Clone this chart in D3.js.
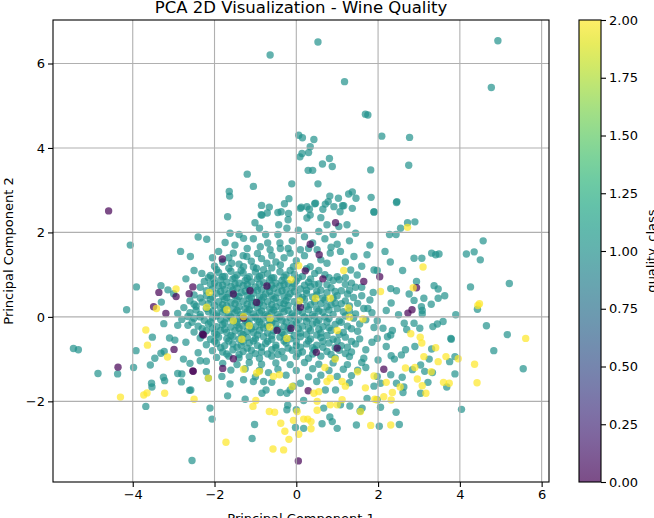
<!DOCTYPE html>
<html>
<head>
<meta charset="utf-8">
<script src="https://cdn.jsdelivr.net/npm/d3@7"></script>
<style>
body { margin: 0; background: #fff; }
text { font-family: "DejaVu Sans", sans-serif; fill: #000; }
</style>
</head>
<body>
<script>
// class 0 (low quality)
var class0 = [[-4.59,2.51],[-3.36,0.58],[-2.94,0.48],[-2.53,0.71],[-2.62,0.55],[-3.49,0.24],[-3.19,0.08],
  [-4.36,-1.19],[-2.99,-0.77],[-2.53,-1.28],[2.04,0.95],[2.94,0.69],[2.83,0.17],[2.73,0.09],[2.14,-1.24],
  [-2.52,-1.29],[-1.80,-1.22],[-1.54,-0.99],[-2.29,-0.41],[0.29,-1.75],[1.00,-0.74],[0.49,-0.84],[-1.81,1.37],
  [-1.54,0.54],[-1.13,0.62],[-0.97,0.34],[-0.72,0.73],[0.34,1.72],[0.56,1.47],[0.96,2.23],[0.22,1.09],
  [0.65,0.90],[1.65,0.84],[0.10,0.23],[-0.47,-0.32],[-0.13,-0.27],[-2.27,-0.43],[-1.29,-0.03],[0.05,-3.41]];

// class 1 (medium quality)
var class1 = [[-4.06,1.70],[-2.40,1.89],[-2.19,1.84],[-2.83,1.55],[-2.59,1.43],[-3.91,0.71],[-3.31,0.74],
  [-3.14,0.64],[-4.15,0.17],[-3.24,-0.16],[-3.52,-0.48],[-3.92,-0.80],[-5.45,-0.75],[-5.33,-0.78],[-4.85,-1.34],
  [-4.37,-1.35],[-3.98,-1.20],[-3.57,-1.14],[-3.46,-0.98],[-3.31,-0.86],[-3.23,-0.82],[-2.76,-1.00],[-2.97,-0.55],
  [-3.54,-1.57],[-3.53,-1.66],[-3.25,-1.43],[-3.22,-1.51],[-3.68,-2.12],[-2.90,-1.34],[-2.80,-1.35],[-2.81,-1.54],
  [-2.61,-1.74],[-2.11,-2.16],[-2.06,-2.42],[-2.55,-3.40],[-2.35,-1.04],
  [-0.64,6.20],[0.53,6.51],[4.93,6.54],[1.18,5.57],[4.77,5.43],[1.69,4.80],[1.75,4.78],[0.06,4.30],[0.15,4.24],
  [0.43,4.20],[2.09,4.28],[2.77,4.25],[0.34,4.03],[0.30,3.89],[0.09,3.79],[0.14,3.87],[0.81,3.75],[0.64,3.62],
  [0.88,3.56],[0.29,3.47],[0.40,3.47],[1.82,3.48],[2.75,3.59],[-1.20,3.38],[-1.05,3.09],[-0.11,3.15],[0.53,3.15],
  [-1.64,2.97],[-1.63,2.86],[1.28,2.91],[1.37,2.96],[1.46,2.81],[1.83,2.83],[2.46,2.73],[0.82,2.86],[1.03,2.81],
  [0.78,2.73],[0.71,2.67],[0.45,2.68],[1.13,2.63],[1.07,2.49],[1.90,2.49],[0.65,2.55],[-0.18,2.80],[-0.29,2.68],
  [-0.85,2.64],[-0.66,2.60],[-0.86,2.42],[-0.71,2.46],[-0.45,2.47],[-0.37,2.49],[0.12,2.60],[0.32,2.55],[-1.68,2.37],
  [-0.19,2.45],[0.10,2.57],[0.26,2.61],[0.47,2.69],[0.92,2.61],[1.16,2.63],[1.37,2.57],[-1.01,2.23],[-0.84,2.41],
  [-0.43,2.18],[-0.23,2.10],[0.26,2.34],[0.34,2.41],[0.75,2.18],[1.04,2.14],[1.24,2.18],[1.45,1.98],[-1.62,1.98],
  [-1.29,1.86],[-1.74,1.76],[-0.88,1.66],[-0.64,1.59],[-0.39,1.62],[-0.15,1.51],[0.10,1.59],[0.51,1.59],[0.83,1.51],
  [1.08,1.55],[1.41,1.43],[1.73,1.47],[-1.54,1.51],[-1.21,1.43],[-1.58,1.27],[-1.29,1.19],[-0.97,1.15],[-0.72,1.27],
  [-0.39,1.23],[-0.07,1.19],[0.34,1.19],[0.75,1.27],[1.00,0.95],[1.33,1.11],[1.49,0.99],[1.90,1.11],[-2.31,1.03],
  [-2.03,0.91],
  [2.45,2.71],[1.90,2.48],[2.72,2.23],[2.90,2.25],[2.55,2.10],[2.28,1.95],[2.44,1.95],[4.57,1.80],[2.17,1.55],
  [3.31,1.51],[3.41,1.47],[3.49,1.49],[4.16,1.49],[4.35,1.54],[4.50,1.35],[2.88,1.39],[3.07,1.39],[1.98,1.10],
  [2.94,0.84],[1.88,0.58],[2.31,0.67],[2.45,0.62],[3.37,0.74],[3.47,0.66],[3.63,0.50],[4.26,0.71],[5.21,0.79],
  [2.76,0.54],[3.12,0.44],[3.47,0.44],[2.32,0.33],[2.88,0.39],[4.43,0.18],[3.06,0.24],[3.08,0.15],[3.08,0.07],
  [1.98,-0.09],[2.64,-0.15],[2.88,-0.15],[3.02,-0.27],[3.34,-0.23],[3.45,-0.17],[3.59,-0.11],[4.65,-0.21],
  [5.16,-0.42],[3.78,-0.51],[2.12,-0.27],[2.35,-0.32],
  [4.83,-0.80],[5.55,-1.23],[3.79,-0.53],[3.75,-1.06],[3.88,-0.94],[3.88,-1.35],[3.68,-1.66],[4.04,-2.19],
  [3.33,-1.32],[3.25,-1.00],[3.31,-0.76],[3.04,-1.14],[3.14,-1.29],[3.22,-1.55],[3.04,-1.81],[2.84,-1.25],
  [2.59,-1.43],[2.45,-1.57],[2.63,-1.66],[2.61,-1.79],[2.31,-1.37],[2.32,-0.92],[2.57,-0.90],[2.67,-0.78],
  [1.98,-0.51],[2.23,-0.47],[2.31,-0.43],[2.00,-1.02],[1.98,-1.41],[2.06,-1.57],[2.06,-2.14],[2.44,-2.26],
  [2.52,-2.55],[2.03,-2.59],
  [-2.58,-1.73],[-1.68,-1.87],[-1.25,-1.95],[-1.02,-2.55],[-1.08,-2.88],[-0.23,-2.20],[-0.21,-2.09],[0.00,-2.20],
  [-0.02,-2.62],[0.18,-2.64],[0.63,-2.53],[0.82,-2.37],[0.88,-2.48],[1.00,-2.64],[0.18,-1.98],[0.67,-2.16],
  [1.08,-2.08],[1.31,-2.11],[1.56,-2.23],[1.61,-2.16],[1.47,-2.56],[1.73,-1.93],[1.98,-1.96],[1.90,-1.64],
  [0.96,-1.73],[0.71,-1.73],[-0.23,-1.81],[-0.15,-1.73],[-0.07,-1.64],[-0.39,-1.79],[-0.84,-1.81],[-0.74,-1.73],
  [-0.68,-1.32],[-1.29,-1.49],[-1.05,-1.53],[-1.62,-1.59],[-2.15,-1.45],[-1.82,-1.41],[-0.80,-1.53],
  [-2.1,0.98],[-1.9,1.05],[-1.75,0.96],[-1.6,1.08],[-1.45,0.99],[-1.3,1.04],[-1.15,0.95],[-1.0,1.06],[-0.85,0.98],
  [-0.7,1.02],[-0.55,0.93],[-0.4,1.07],[-0.25,0.99],[-0.05,1.01],[0.15,0.96],[0.45,1.03],[0.7,1.0],[1.2,0.93],
  [-2.25,0.84],[-2.0,0.8],[-1.85,0.88],[-1.7,0.82],[-1.55,0.9],[-1.4,0.8],[-1.25,0.86],[-1.1,0.83],[-0.95,0.9],
  [-0.8,0.81],[-0.65,0.87],[-0.5,0.8],[-0.35,0.86],[-0.2,0.79],[0.0,0.85],[0.3,0.82],[0.55,0.78],[0.9,0.86],[1.35,0.8],
  [-2.35,0.7],[-2.05,0.66],[-1.9,0.73],[-1.75,0.65],[-1.6,0.72],[-1.45,0.68],[-1.3,0.74],[-1.15,0.66],[-1.0,0.71],
  [-0.85,0.64],[-0.7,0.7],[-0.55,0.67],[-0.4,0.73],[-0.25,0.64],[-0.1,0.7],[0.1,0.66],[0.35,0.72],[0.6,0.63],
  [0.85,0.69],[1.1,0.62],[1.45,0.7],
  [-2.5,0.52],[-2.2,0.5],[-1.95,0.56],[-1.8,0.49],[-1.65,0.55],[-1.5,0.5],[-1.35,0.58],[-1.2,0.51],[-1.05,0.56],
  [-0.9,0.48],[-0.75,0.54],[-0.6,0.5],[-0.45,0.57],[-0.3,0.49],[-0.15,0.55],[0.05,0.5],[0.25,0.56],[0.5,0.52],
  [0.75,0.57],[1.0,0.5],[1.25,0.54],[1.6,0.5],
  [-2.6,0.38],[-2.3,0.35],[-2.1,0.42],[-1.9,0.36],[-1.75,0.41],[-1.6,0.34],[-1.45,0.4],[-1.3,0.37],[-1.15,0.43],
  [-1.0,0.35],[-0.85,0.4],[-0.7,0.36],[-0.55,0.42],[-0.4,0.34],[-0.25,0.39],[-0.05,0.36],[0.2,0.41],[0.45,0.35],
  [0.7,0.4],[0.95,0.33],[1.2,0.38],[1.5,0.32],[1.8,0.4],
  [-2.75,0.22],[-2.45,0.25],[-2.2,0.2],[-2.0,0.27],[-1.85,0.21],[-1.7,0.26],[-1.55,0.19],[-1.4,0.24],[-1.25,0.2],
  [-1.1,0.27],[-0.95,0.22],[-0.8,0.26],[-0.65,0.19],[-0.5,0.24],[-0.35,0.2],[-0.2,0.27],[0.0,0.21],[0.25,0.25],
  [0.5,0.19],[0.75,0.24],[1.0,0.2],[1.3,0.26],[1.65,0.2],
  [-2.9,0.08],[-2.6,0.1],[-2.35,0.06],[-2.15,0.12],[-1.95,0.07],[-1.8,0.11],[-1.65,0.05],[-1.5,0.1],[-1.35,0.06],
  [-1.2,0.12],[-1.05,0.07],[-0.9,0.1],[-0.75,0.05],[-0.6,0.11],[-0.45,0.06],[-0.3,0.12],[-0.1,0.07],[0.15,0.1],
  [0.4,0.05],[0.65,0.11],[0.9,0.06],[1.15,0.12],[1.45,0.07],[1.85,0.1],
  [-2.8,-0.06],[-2.5,-0.03],[-2.25,-0.08],[-2.05,-0.02],[-1.85,-0.07],[-1.7,-0.03],[-1.55,-0.09],[-1.4,-0.04],
  [-1.25,-0.08],[-1.1,-0.02],[-0.95,-0.07],[-0.8,-0.03],[-0.65,-0.09],[-0.5,-0.04],[-0.35,-0.08],[-0.15,-0.02],
  [0.05,-0.07],[0.3,-0.03],[0.55,-0.08],[0.8,-0.04],[1.05,-0.09],[1.4,-0.03],[1.7,-0.07],
  [-2.65,-0.2],[-2.4,-0.22],[-2.15,-0.17],[-1.95,-0.23],[-1.8,-0.18],[-1.6,-0.24],[-1.45,-0.19],[-1.3,-0.22],
  [-1.15,-0.17],[-1.0,-0.23],[-0.85,-0.18],[-0.7,-0.21],[-0.5,-0.17],[-0.3,-0.23],[-0.1,-0.18],[0.15,-0.22],
  [0.4,-0.17],[0.65,-0.23],[0.95,-0.18],[1.25,-0.22],[1.55,-0.17],
  [-2.5,-0.36],[-2.2,-0.33],[-2.0,-0.38],[-1.85,-0.32],[-1.7,-0.37],[-1.5,-0.33],[-1.35,-0.39],[-1.2,-0.34],
  [-1.05,-0.37],[-0.9,-0.32],[-0.7,-0.38],[-0.55,-0.33],[-0.35,-0.37],[-0.15,-0.32],[0.1,-0.38],[0.35,-0.33],
  [0.6,-0.38],[0.85,-0.32],[1.15,-0.37],[1.5,-0.34],
  [-2.35,-0.5],[-2.1,-0.53],[-1.9,-0.48],[-1.7,-0.52],[-1.55,-0.47],[-1.4,-0.53],[-1.2,-0.49],[-1.0,-0.52],
  [-0.8,-0.47],[-0.6,-0.53],[-0.4,-0.48],[-0.15,-0.52],[0.1,-0.47],[0.35,-0.52],[0.6,-0.49],[0.9,-0.53],
  [1.2,-0.48],[1.55,-0.52],
  [-2.2,-0.66],[-1.95,-0.63],[-1.75,-0.68],[-1.55,-0.64],[-1.35,-0.67],[-1.15,-0.62],[-0.95,-0.68],[-0.75,-0.63],
  [-0.5,-0.67],[-0.25,-0.62],[0.0,-0.68],[0.25,-0.64],[0.5,-0.67],[0.8,-0.62],[1.1,-0.68],[1.45,-0.64],
  [-2.05,-0.8],[-1.8,-0.83],[-1.55,-0.78],[-1.3,-0.82],[-1.1,-0.79],[-0.85,-0.83],[-0.6,-0.78],[-0.35,-0.82],
  [-0.1,-0.79],[0.15,-0.83],[0.45,-0.78],[0.75,-0.82],[1.05,-0.79],[1.35,-0.83],[1.7,-0.78],
  [-1.95,-0.96],[-1.65,-0.93],[-1.4,-0.97],[-1.15,-0.94],[-0.9,-0.98],[-0.6,-0.93],[-0.3,-0.97],[0.0,-0.94],
  [0.3,-0.98],[0.6,-0.93],[0.95,-0.97],[1.3,-0.94],[1.65,-0.98],
  [-1.8,-1.1],[-1.45,-1.13],[-1.15,-1.08],[-0.85,-1.12],[-0.5,-1.09],[-0.15,-1.13],[0.2,-1.08],[0.55,-1.12],
  [0.9,-1.09],[1.25,-1.13],[1.6,-1.08],
  [-1.6,-1.26],[-1.25,-1.23],[-0.9,-1.27],[-0.45,-1.24],[0.0,-1.27],[0.4,-1.23],[0.8,-1.27],[1.15,-1.24],[1.5,-1.26],
  [-1.0,-1.42],[-0.25,-1.38],[0.3,-1.42],[0.6,-1.38],[1.0,-1.41],[1.35,-1.39],
  [-0.6,-1.55],[0.1,-1.57],[0.5,-1.53],[1.3,-1.56],
  [-2.0,1.2],[-1.8,1.3],[-1.4,1.25],[-1.1,1.32],[-0.85,1.38],[-0.5,1.3],[-0.3,1.4],[0.0,1.33],[0.2,1.45],[0.6,1.35],
  [1.2,1.3],[-1.9,1.55],[-1.2,1.62],[-0.7,1.75],[-0.1,1.8],[0.4,1.75],[0.7,1.85],[1.0,1.72],[1.3,1.8],[-1.4,1.95],
  [-0.45,1.95],[0.05,2.05],[0.55,2.02],[-1.05,1.85],[-0.9,2.1],[-0.2,2.3],[0.6,2.35],[-2.05,1.4],[-2.5,1.1],
  [-2.7,0.9],[-3.0,0.55],[-3.3,0.35],[-2.9,-0.2],[-3.1,-0.5],[-2.7,-0.6],[-2.4,-0.85],[-2.6,-1.1],[-2.2,-1.05],
  [-2.2,-1.3],[1.6,0.7],[1.75,0.2],[1.9,-0.25],[2.2,0.15],[2.5,0.05],[2.7,-0.3],[2.2,-0.7],[1.7,-1.2],[1.85,-0.6],
  [2.4,-1.0],[2.9,-0.7],[3.3,0.3],[3.9,0.05],[1.6,1.2],[1.8,1.7],[2.3,1.3],[2.6,1.1]];

// class 1, more points of the crowded core
var class1Core = [[-1.95,1.12],[-1.65,1.15],[-1.35,1.1],[-1.05,1.18],[-0.8,1.12],[-0.6,1.16],[-0.15,1.1],
  [0.25,1.14],[0.55,1.1],
  [-2.15,0.93],[-1.8,0.95],[-1.5,0.93],[-1.2,0.91],[-0.9,0.95],[-0.6,0.92],[-0.3,0.94],[0.05,0.92],[0.35,0.9],
  [0.8,0.93],[1.05,0.88],
  [-2.1,0.77],[-1.8,0.75],[-1.5,0.78],[-1.2,0.76],[-0.9,0.78],[-0.6,0.75],[-0.3,0.77],[-0.05,0.78],[0.2,0.75],
  [0.45,0.77],[0.75,0.76],[1.2,0.77],
  [-2.2,0.62],[-1.85,0.6],[-1.55,0.63],[-1.25,0.61],[-0.95,0.63],[-0.65,0.6],[-0.35,0.62],[-0.05,0.6],[0.25,0.63],
  [0.5,0.61],[0.95,0.6],[1.3,0.63],
  [-2.35,0.45],[-2.05,0.47],[-1.7,0.46],[-1.4,0.48],[-1.1,0.45],[-0.8,0.47],[-0.5,0.45],[-0.2,0.47],[0.15,0.46],
  [0.4,0.47],[0.65,0.45],[0.9,0.44],[1.4,0.46],
  [-2.5,0.3],[-2.15,0.31],[-1.8,0.29],[-1.5,0.31],[-1.2,0.3],[-0.9,0.32],[-0.6,0.29],[-0.3,0.31],[0.05,0.3],
  [0.35,0.29],[0.6,0.31],[0.85,0.29],[1.1,0.31],
  [-2.45,0.16],[-2.05,0.14],[-1.75,0.17],[-1.45,0.15],[-1.15,0.17],[-0.85,0.14],[-0.55,0.16],[-0.2,0.15],
  [0.05,0.14],[0.3,0.17],[0.55,0.14],[0.8,0.16],[1.3,0.14],
  [-2.65,0.01],[-2.35,0.0],[-1.95,0.02],[-1.6,0.0],[-1.3,0.01],[-1.0,0.0],[-0.7,0.02],[-0.4,0.0],[-0.05,0.02],
  [0.2,0.0],[0.45,0.01],[0.7,0.0],[1.2,0.02],
  [-2.55,-0.13],[-2.1,-0.12],[-1.75,-0.14],[-1.45,-0.12],[-1.2,-0.14],[-0.9,-0.12],[-0.6,-0.14],[-0.25,-0.12],
  [0.0,-0.13],[0.25,-0.11],[0.5,-0.14],[0.75,-0.12],[1.1,-0.13],
  [-2.3,-0.28],[-2.05,-0.27],[-1.75,-0.29],[-1.4,-0.27],[-1.1,-0.28],[-0.8,-0.26],[-0.45,-0.29],[-0.2,-0.27],
  [0.05,-0.28],[0.3,-0.27],[0.55,-0.29],[0.8,-0.26],[1.35,-0.28],
  [-2.3,-0.43],[-1.95,-0.42],[-1.6,-0.44],[-1.3,-0.42],[-0.95,-0.43],[-0.6,-0.44],[-0.3,-0.42],[-0.05,-0.44],
  [0.25,-0.42],[0.5,-0.43],[0.75,-0.44],[1.05,-0.42],
  [-2.0,-0.58],[-1.65,-0.57],[-1.3,-0.59],[-1.05,-0.57],[-0.7,-0.58],[-0.3,-0.57],[0.0,-0.59],[0.3,-0.57],
  [0.65,-0.58],[1.0,-0.57],[1.35,-0.58],
  [-1.85,-0.73],[-1.45,-0.72],[-1.2,-0.74],[-0.85,-0.72],[-0.5,-0.73],[-0.2,-0.74],[0.1,-0.72],[0.4,-0.73],
  [0.65,-0.72],[0.95,-0.73],[1.25,-0.72],
  [-1.7,-0.88],[-1.4,-0.89],[-1.0,-0.87],[-0.7,-0.88],[-0.45,-0.89],[0.05,-0.87],[0.4,-0.88],[0.85,-0.89],[1.2,-0.87],
  [-1.65,1.4],[-1.3,1.45],[-0.95,1.5],[-0.6,1.45],[-0.2,1.62],[0.3,1.62],[0.85,1.65],[-1.5,1.7],[-0.4,1.75],
  [0.2,1.9],[-0.75,1.95],[0.9,1.95]];

// class 2 (high quality)
var class2 = [[-2.94,0.66],[-2.13,0.58],[-3.42,0.20],[-3.68,-0.31],[-3.64,-0.67],[-3.15,-0.95],[-3.73,-1.85],
  [-3.65,-1.80],[-4.30,-1.90],[-3.22,-1.81],[-2.50,-1.95],[2.72,2.12],[3.10,1.18],[2.06,0.60],[2.86,0.69],
  [4.48,0.31],[4.44,0.27],[2.80,-0.40],[5.61,-0.51],[4.36,-1.12],[4.42,-1.56],[3.41,-0.73],[3.66,-0.94],
  [3.47,-1.06],[3.96,-0.99],[3.12,-0.94],[3.60,-1.55],[3.74,-1.57],[3.08,-1.63],[3.17,-1.81],[2.96,-1.47],
  [2.67,-1.21],[2.54,-1.66],[2.35,-1.79],[1.92,-1.95],[2.14,-1.89],[2.32,-1.97],[2.31,-2.56],[1.82,-2.57],
  [3.03,-0.48],[3.07,-0.62],[-1.06,-2.12],[-0.99,-1.98],[-1.72,-2.97],[-0.66,-2.24],[-0.53,-2.26],[-0.38,-2.52],
  [-0.28,-2.71],[-0.18,-2.90],[-0.57,-3.13],[-0.31,-3.15],[0.02,-2.24],[-0.07,-2.45],[0.18,-2.42],[0.28,-2.42],
  [0.36,-2.48],[0.36,-2.65],[0.06,-2.78],[0.51,-2.21],[0.51,-2.00],[0.83,-2.08],[1.00,-2.08],[1.12,-1.96],
  [1.57,-2.24],[1.96,-1.96],[1.69,-1.68],[0.75,-1.53],[0.83,-1.45],[1.12,-1.53],[1.20,-1.64],[0.43,-1.81],
  [0.55,-1.77],[-0.97,-1.33],[-0.90,-1.29],[-0.56,-1.41],[-0.41,-1.37],[-1.29,-1.24],[-2.15,-1.45],[0.06,1.21],
  [-0.13,0.88],[1.16,1.10],[0.47,0.44],[0.83,0.44],[0.08,0.38],[1.27,0.21],[1.30,-0.01],[1.63,-0.05],[1.00,-0.32],
  [-2.19,0.23],[-1.70,0.17],[-1.54,-0.09],[-1.29,0.01],[-1.15,-0.21],[-0.64,-0.03],[-1.33,-0.53],[-0.23,-0.51],
  [-0.65,-0.24],[0.7,-1.2],[1.5,-1.3],[-0.1,-1.65],[0.95,-1.0],[1.9,-1.4],[2.2,-1.55],[2.9,-1.2],[3.3,-1.3]];

var xTicks = [-4, -2, 0, 2, 4, 6];
var yTicks = [-2, 0, 2, 4, 6];
var cbTicks = [0, 0.25, 0.5, 0.75, 1, 1.25, 1.5, 1.75, 2];

var W = 654, H = 518;
var padL = 53, padR = 549, padT = 20, padB = 482;

var svg = d3.select('body').append('svg')
  .attr('width', W)
  .attr('height', H);

var x = d3.scaleLinear().domain([-5.95, 6.18]).range([padL, padR]);
var y = d3.scaleLinear().domain([-3.91, 7.03]).range([padB, padT]);
var color = d3.scaleSequential(d3.interpolateViridis).domain([0, 2]);

var points = class1.map(d => [d[0], d[1], 1])
  .concat(class1Core.map(d => [d[0], d[1], 1]))
  .concat(class0.map(d => [d[0], d[1], 0]))
  .concat(class2.map(d => [d[0], d[1], 2]));

svg.append('g').selectAll('circle').data(points).enter().append('circle')
  .attr('cx', d => x(d[0]))
  .attr('cy', d => y(d[1]))
  .attr('r', 3.7)
  .attr('fill', d => color(d[2]))
  .attr('fill-opacity', 0.7);

// grid (drawn above the scatter like matplotlib)
var grid = svg.append('g').attr('stroke', '#b0b0b0').attr('stroke-width', 1.1);
grid.selectAll('.gx').data(xTicks).enter().append('line')
  .attr('x1', d => x(d)).attr('x2', d => x(d)).attr('y1', padT).attr('y2', padB);
grid.selectAll('.gy').data(yTicks).enter().append('line')
  .attr('y1', d => y(d)).attr('y2', d => y(d)).attr('x1', padL).attr('x2', padR);

var fmt = d3.format('d');
var xAxis = svg.append('g').attr('transform', 'translate(0,' + padB + ')')
  .call(d3.axisBottom(x).tickValues(xTicks).tickFormat(fmt).tickSize(5).tickPadding(3));
var yAxis = svg.append('g').attr('transform', 'translate(' + padL + ',0)')
  .call(d3.axisLeft(y).tickValues(yTicks).tickFormat(fmt).tickSize(5).tickPadding(3));
[xAxis, yAxis].forEach(a => {
  a.select('.domain').remove();
  a.selectAll('line').attr('stroke-width', 1.1);
  a.selectAll('text').style('font-size', '13px').attr('font-family', 'DejaVu Sans');
});

svg.append('rect')
  .attr('x', padL).attr('y', padT).attr('width', padR - padL).attr('height', padB - padT)
  .attr('fill', 'none').attr('stroke', '#000').attr('stroke-width', 1.1);

svg.append('text').attr('x', (padL + padR) / 2).attr('y', 13)
  .attr('text-anchor', 'middle').style('font-size', '16.5px')
  .text('PCA 2D Visualization - Wine Quality');
svg.append('text').attr('x', (padL + padR) / 2).attr('y', 523)
  .attr('text-anchor', 'middle').style('font-size', '13px')
  .text('Principal Component 1');
svg.append('text').attr('transform', 'translate(13,' + ((padT + padB) / 2) + ') rotate(-90)')
  .attr('text-anchor', 'middle').style('font-size', '13px')
  .text('Principal Component 2');

// colorbar
var cbX = 579, cbW = 22;
var cb = d3.scaleLinear().domain([0, 2]).range([padB, padT]);
var grad = svg.append('defs').append('linearGradient')
  .attr('id', 'vir').attr('x1', 0).attr('y1', 1).attr('x2', 0).attr('y2', 0);
grad.selectAll('stop').data(d3.range(0, 1.0001, 0.05)).enter().append('stop')
  .attr('offset', d => d)
  .attr('stop-color', d => d3.interpolateViridis(d))
  .attr('stop-opacity', 0.7);
svg.append('rect').attr('x', cbX).attr('y', padT).attr('width', cbW).attr('height', padB - padT)
  .attr('fill', 'url(#vir)').attr('stroke', '#000').attr('stroke-width', 1.1);
var cbAxis = svg.append('g').attr('transform', 'translate(' + (cbX + cbW) + ',0)')
  .call(d3.axisRight(cb).tickValues(cbTicks).tickFormat(d3.format('.2f')).tickSize(5).tickPadding(3));
cbAxis.select('.domain').remove();
cbAxis.selectAll('line').attr('stroke-width', 1.1);
cbAxis.selectAll('text').style('font-size', '13px').attr('font-family', 'DejaVu Sans');

svg.append('text').attr('transform', 'translate(656,' + ((padT + padB) / 2) + ') rotate(-90)')
  .attr('text-anchor', 'middle').style('font-size', '13px')
  .text('quality_class');
</script>
</body>
</html>
